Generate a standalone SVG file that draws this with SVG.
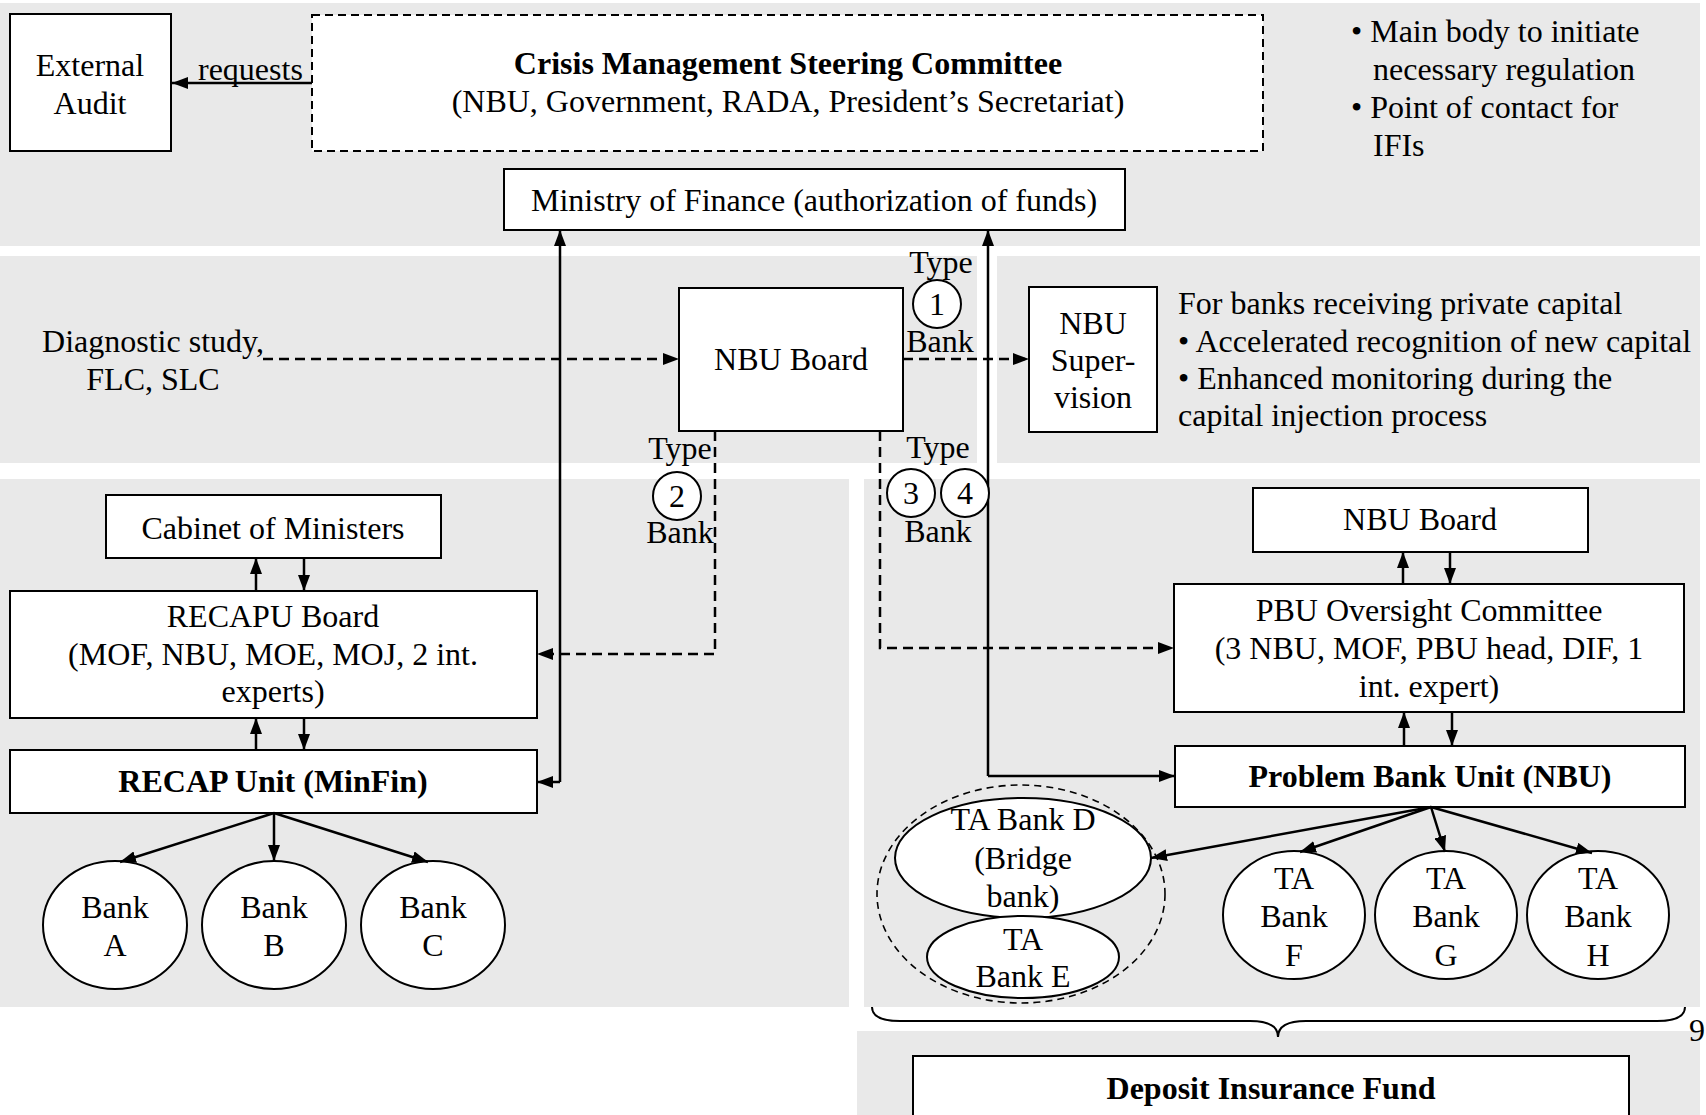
<svg xmlns="http://www.w3.org/2000/svg" width="1706" height="1115" viewBox="0 0 1706 1115">
<defs>
<style>
text { font-family: "Liberation Serif", "Times New Roman", serif; font-size: 32px; fill: #000; }
.c { text-anchor: middle; }
.b { font-weight: bold; }
.panel { fill: #e9e9e9; }
.box { fill: #fff; stroke: #000; stroke-width: 2; }
.dbox { fill: #fff; stroke: #000; stroke-width: 2; stroke-dasharray: 8 5; }
.ell { fill: #fff; stroke: #000; stroke-width: 2; }
.grp { fill: none; stroke: #000; stroke-width: 1.6; stroke-dasharray: 7 5; }
.ln { fill: none; stroke: #000; stroke-width: 2.5; }
.dl { fill: none; stroke: #000; stroke-width: 2.5; stroke-dasharray: 10 6; }
.brace { fill: none; stroke: #000; stroke-width: 2; }
</style>
<marker id="ah" markerUnits="userSpaceOnUse" markerWidth="16" markerHeight="12" refX="16" refY="6" orient="auto" viewBox="0 0 16 12"><path d="M0,0 L16,6 L0,12 z" fill="#000"/></marker>
</defs>

<g id="panels">
<rect class="panel" x="0" y="3" width="1700" height="243"/>
<rect class="panel" x="0" y="256" width="977" height="207"/>
<rect class="panel" x="997" y="256" width="703" height="207"/>
<rect class="panel" x="0" y="479" width="849" height="528"/>
<rect class="panel" x="864" y="479" width="836" height="528"/>
<rect class="panel" x="857" y="1031" width="843" height="84"/>
</g>

<g id="external-audit">
<rect class="box" x="10" y="14" width="161" height="137"/>
<text class="c" x="90" y="76">External</text>
<text class="c" x="90" y="114">Audit</text>
</g>

<g id="crisis-committee">
<rect class="dbox" x="312" y="15" width="951" height="136"/>
<text class="c b" x="788" y="74">Crisis Management Steering Committee</text>
<text class="c" x="788" y="112">(NBU, Government, RADA, President’s Secretariat)</text>
</g>

<g id="committee-notes">
<text x="1351" y="42">• Main body to initiate</text>
<text x="1373" y="80">necessary regulation</text>
<text x="1351" y="118">• Point of contact for</text>
<text x="1373" y="156">IFIs</text>
</g>

<g id="ministry-of-finance">
<rect class="box" x="504" y="169" width="621" height="61"/>
<text class="c" x="814" y="211">Ministry of Finance (authorization of funds)</text>
</g>

<g id="diagnostic">
<text class="c" x="153" y="352">Diagnostic study,</text>
<text class="c" x="153" y="390">FLC, SLC</text>
</g>

<g id="nbu-board-center">
<rect class="box" x="679" y="288" width="224" height="143"/>
<text class="c" x="791" y="370">NBU Board</text>
</g>

<g id="nbu-supervision">
<rect class="box" x="1029" y="287" width="128" height="145"/>
<text class="c" x="1093" y="334">NBU</text>
<text class="c" x="1093" y="371">Super-</text>
<text class="c" x="1093" y="408">vision</text>
</g>

<g id="supervision-notes">
<text x="1178" y="314">For banks receiving private capital</text>
<text x="1178" y="352">• Accelerated recognition of new capital</text>
<text x="1178" y="389">• Enhanced monitoring during the</text>
<text x="1178" y="426">capital injection process</text>
</g>

<g id="cabinet">
<rect class="box" x="106" y="495" width="335" height="63"/>
<text class="c" x="273" y="539">Cabinet of Ministers</text>
</g>

<g id="recapu-board">
<rect class="box" x="10" y="591" width="527" height="127"/>
<text class="c" x="273" y="627">RECAPU Board</text>
<text class="c" x="273" y="665">(MOF, NBU, MOE, MOJ, 2 int.</text>
<text class="c" x="273" y="702">experts)</text>
</g>

<g id="recap-unit">
<rect class="box" x="10" y="750" width="527" height="63"/>
<text class="c b" x="273" y="792">RECAP Unit (MinFin)</text>
</g>

<g id="bank-a">
<ellipse class="ell" cx="115" cy="925" rx="72" ry="64"/>
<text class="c" x="115" y="918">Bank</text>
<text class="c" x="115" y="956">A</text>
</g>
<g id="bank-b">
<ellipse class="ell" cx="274" cy="925" rx="72" ry="64"/>
<text class="c" x="274" y="918">Bank</text>
<text class="c" x="274" y="956">B</text>
</g>
<g id="bank-c">
<ellipse class="ell" cx="433" cy="925" rx="72" ry="64"/>
<text class="c" x="433" y="918">Bank</text>
<text class="c" x="433" y="956">C</text>
</g>

<g id="nbu-board-right">
<rect class="box" x="1253" y="488" width="335" height="64"/>
<text class="c" x="1420" y="530">NBU Board</text>
</g>

<g id="pbu-oversight">
<rect class="box" x="1174" y="584" width="510" height="128"/>
<text class="c" x="1429" y="621">PBU Oversight Committee</text>
<text class="c" x="1429" y="659">(3 NBU, MOF, PBU head, DIF, 1</text>
<text class="c" x="1429" y="697">int. expert)</text>
</g>

<g id="problem-bank-unit">
<rect class="box" x="1175" y="746" width="510" height="61"/>
<text class="c b" x="1430" y="787">Problem Bank Unit (NBU)</text>
</g>

<g id="bank-group-de">
<ellipse class="grp" cx="1021" cy="894" rx="144" ry="109"/>
</g>
<g id="ta-bank-d">
<ellipse class="ell" cx="1023" cy="858" rx="128" ry="60"/>
<text class="c" x="1023" y="830">TA Bank D</text>
<text class="c" x="1023" y="869">(Bridge</text>
<text class="c" x="1023" y="907">bank)</text>
</g>
<g id="ta-bank-e">
<ellipse class="ell" cx="1023" cy="957" rx="96" ry="41"/>
<text class="c" x="1023" y="950">TA</text>
<text class="c" x="1023" y="987">Bank E</text>
</g>

<g id="ta-bank-f">
<ellipse class="ell" cx="1294" cy="915" rx="71" ry="64"/>
<text class="c" x="1294" y="889">TA</text>
<text class="c" x="1294" y="927">Bank</text>
<text class="c" x="1294" y="966">F</text>
</g>
<g id="ta-bank-g">
<ellipse class="ell" cx="1446" cy="915" rx="71" ry="64"/>
<text class="c" x="1446" y="889">TA</text>
<text class="c" x="1446" y="927">Bank</text>
<text class="c" x="1446" y="966">G</text>
</g>
<g id="ta-bank-h">
<ellipse class="ell" cx="1598" cy="915" rx="71" ry="64"/>
<text class="c" x="1598" y="889">TA</text>
<text class="c" x="1598" y="927">Bank</text>
<text class="c" x="1598" y="966">H</text>
</g>

<g id="brace">
<path class="brace" d="M872,1007 Q872,1021 900,1021 L1250,1021 Q1278,1021 1278,1037 Q1278,1021 1306,1021 L1657,1021 Q1685,1021 1685,1007"/>
</g>

<g id="deposit-insurance-fund">
<rect class="box" x="913" y="1056" width="716" height="80"/>
<text class="c b" x="1271" y="1099">Deposit Insurance Fund</text>
</g>

<g id="page-number">
<text x="1689" y="1041">9</text>
</g>

<g id="connectors">
<path class="ln" d="M312,83 L172,83" marker-end="url(#ah)"/>
<text x="198" y="80">requests</text>

<path class="ln" d="M560,782 L560,230" marker-end="url(#ah)"/>
<path class="ln" d="M560,782 L537,782" marker-end="url(#ah)"/>
<path class="ln" d="M988,776 L988,230" marker-end="url(#ah)"/>
<path class="ln" d="M988,776 L1175,776" marker-end="url(#ah)"/>

<path class="dl" d="M263,359 L679,359" marker-end="url(#ah)"/>
<path class="dl" d="M903,359 L1029,359" marker-end="url(#ah)"/>
<path class="dl" d="M715,431 L715,654 L537,654" marker-end="url(#ah)"/>
<path class="dl" d="M880,431 L880,648 L1174,648" marker-end="url(#ah)"/>

<path class="ln" d="M256,591 L256,558" marker-end="url(#ah)"/>
<path class="ln" d="M304,558 L304,591" marker-end="url(#ah)"/>
<path class="ln" d="M256,750 L256,718" marker-end="url(#ah)"/>
<path class="ln" d="M304,718 L304,750" marker-end="url(#ah)"/>
<path class="ln" d="M1403,584 L1403,552" marker-end="url(#ah)"/>
<path class="ln" d="M1450,552 L1450,584" marker-end="url(#ah)"/>
<path class="ln" d="M1404,746 L1404,712" marker-end="url(#ah)"/>
<path class="ln" d="M1452,712 L1452,746" marker-end="url(#ah)"/>

<path class="ln" d="M274,813 L120,862" marker-end="url(#ah)"/>
<path class="ln" d="M274,813 L274,861" marker-end="url(#ah)"/>
<path class="ln" d="M274,813 L428,862" marker-end="url(#ah)"/>

<path class="ln" d="M1431,807 L1151,858" marker-end="url(#ah)"/>
<path class="ln" d="M1431,807 L1300,852" marker-end="url(#ah)"/>
<path class="ln" d="M1431,807 L1445,852" marker-end="url(#ah)"/>
<path class="ln" d="M1431,807 L1592,853" marker-end="url(#ah)"/>

<text class="c" x="941" y="273">Type</text>
<circle class="ell" cx="937" cy="304" r="24"/>
<text class="c" x="937" y="315">1</text>
<text class="c" x="940" y="352">Bank</text>

<text class="c" x="680" y="459">Type</text>
<circle class="ell" cx="677" cy="496" r="24"/>
<text class="c" x="677" y="507">2</text>
<text class="c" x="680" y="543">Bank</text>

<text class="c" x="938" y="458">Type</text>
<circle class="ell" cx="911" cy="493" r="24"/>
<text class="c" x="911" y="504">3</text>
<circle class="ell" cx="965" cy="493" r="24"/>
<text class="c" x="965" y="504">4</text>
<text class="c" x="938" y="542">Bank</text>
</g>
</svg>
